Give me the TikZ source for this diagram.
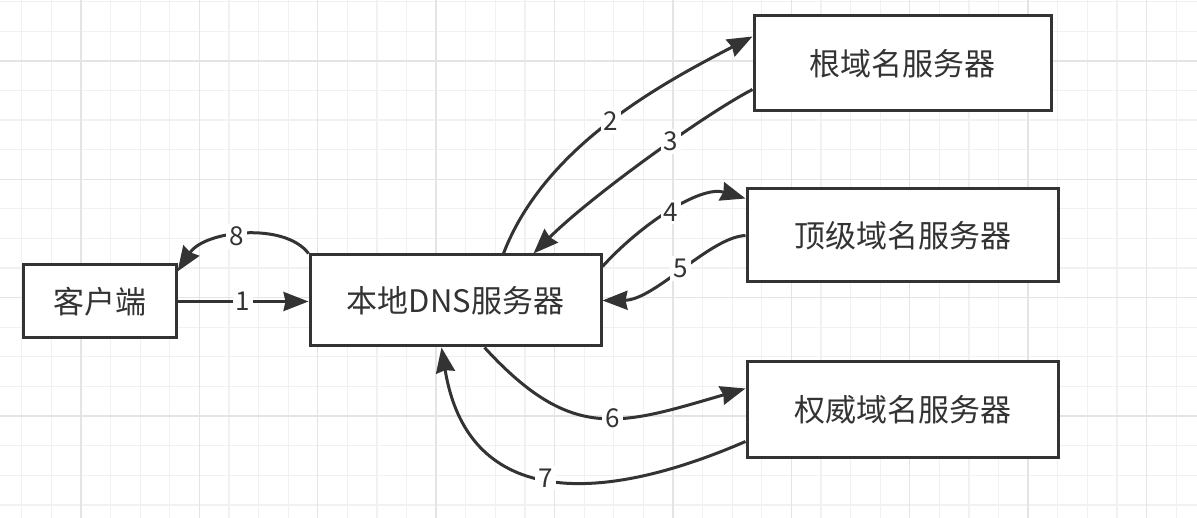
\documentclass[tikz,border=0pt]{standalone}
\usepackage{fontspec}
\newfontfamily\cjk{Noto Sans CJK SC}
\usetikzlibrary{arrows.meta,calc}
\definecolor{ink}{HTML}{333333}
\definecolor{gminor}{HTML}{F1F1F1}
\definecolor{gmajor}{HTML}{E4E4E4}
\tikzset{
  box/.style={draw=ink, line width=3pt, fill=white, text=ink, inner sep=0pt,
    font=\cjk\fontsize{31}{36}\selectfont},
  lbl/.style={fill=white, text=ink, inner sep=3pt, font=\cjk\fontsize{26}{30}\selectfont},
  conn/.style={draw=ink, line width=3pt, -{Stealth[length=25pt,width=19pt,inset=2pt]}},
  gridminor/.style={draw=gminor, line width=1.2pt},
  gridmajor/.style={draw=gmajor, line width=1.5pt}
}
\begin{document}
\begin{tikzpicture}[x=1pt,y=-1pt]
\useasboundingbox (0,0) rectangle (1197,518);
\fill[white] (0,0) rectangle (1197,518);
\foreach \i in {0,...,39} \draw[gridminor] ({21.7+29.6*\i},0) -- ({21.7+29.6*\i},518);
\foreach \j in {0,...,17} \draw[gridminor] (0,{1.7+29.6*\j}) -- (1197,{1.7+29.6*\j});
\foreach \i in {0,...,9} \draw[gridmajor] ({80.9+118.4*\i},0) -- ({80.9+118.4*\i},518);
\foreach \j in {0,...,3} \draw[gridmajor] (0,{60.9+118.4*\j}) -- (1197,{60.9+118.4*\j});

\node[box, minimum width=153pt, minimum height=73pt] (client) at (99.5,301.5) {客户端};
\node[box, minimum width=291pt, minimum height=91pt] (dns) at (455.5,300.5) {本地DNS服务器};
\node[box, minimum width=297pt, minimum height=95pt] (root) at (902.5,63.5) {根域名服务器};
\node[box, minimum width=311pt, minimum height=93pt] (tld) at (902.5,235.5) {顶级域名服务器};
\node[box, minimum width=311pt, minimum height=95pt] (auth) at (902.5,409.5) {权威域名服务器};

\draw[conn] (client.east) -- node[lbl]{1} (client.east -| dns.west);
\draw[conn] ([xshift=195pt]dns.north west) .. controls (545,145) and (665,82) .. node[lbl]{2} ([yshift=-22pt]root.north west);
\draw[conn] ([yshift=23pt]root.south west) .. controls (705,114) and (590,197) .. node[lbl,pos=0.4]{3} ([xshift=225pt]dns.north west);
\draw[conn] ([yshift=-13pt]dns.north east) .. controls (640,225) and (700,185) .. node[lbl]{4} ([yshift=-11pt]tld.north west);
\draw[conn] (tld.west) .. controls (710,237) and (655,300) .. node[lbl]{5} (dns.east);
\draw[conn] ([xshift=176pt]dns.south west) .. controls (572,443) and (620,425) .. node[lbl,pos=0.55]{6} ([yshift=-28pt]auth.north west);
\draw[conn] ([yshift=17pt]auth.south west) .. controls (592,508) and (467,504) .. node[lbl]{7} ([xshift=133pt]dns.south west);
\draw[conn] (dns.north west) .. controls (285,222) and (205,230) .. node[lbl,pos=0.55]{8} ([yshift=-8pt]client.north east);
\end{tikzpicture}
\end{document}
